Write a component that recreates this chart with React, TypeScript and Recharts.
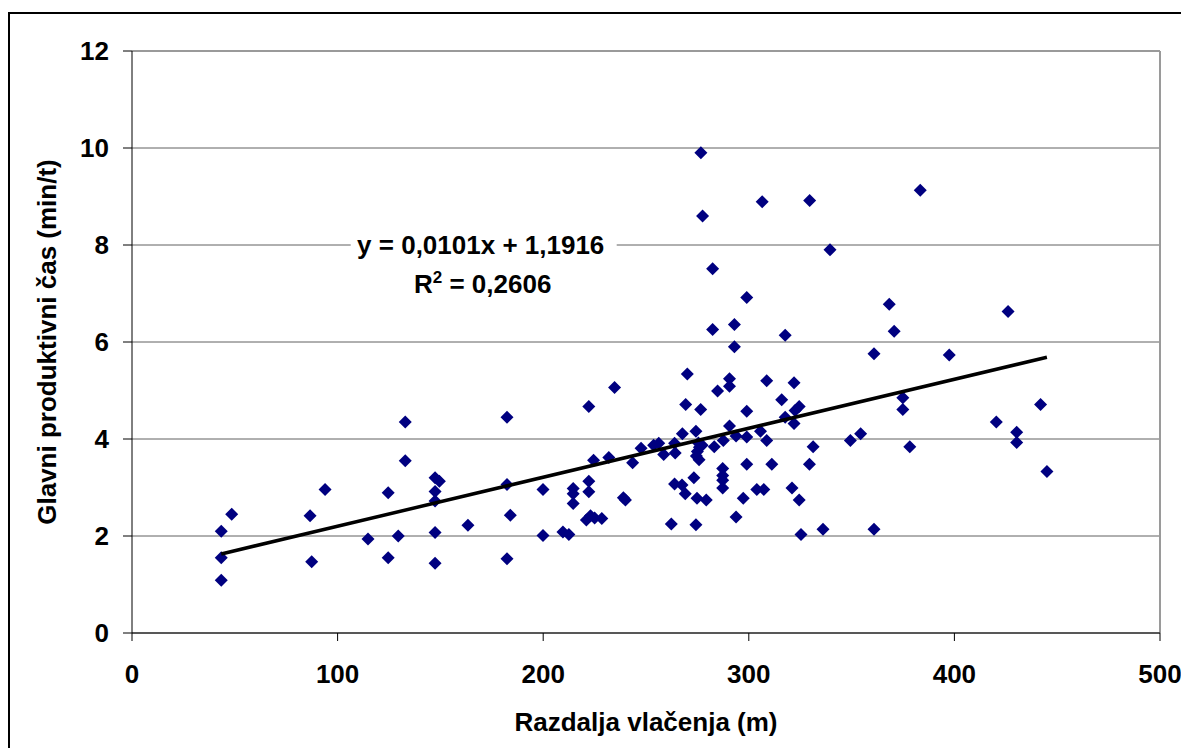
import React from "react";
import {
  ScatterChart,
  Scatter,
  XAxis,
  YAxis,
  CartesianGrid,
  ReferenceLine,
  Label,
} from "recharts";

// Razdalja vlačenja (m)
const distances: number[] = [
  43.4, 43.4, 43.4, 48.5, 86.6, 87.4, 93.9, 114.8, 124.6, 124.6,
  129.5, 132.9, 132.9, 147.4, 149.5, 147.4, 147.4, 147.4, 147.4, 163.4,
  182.4, 182.4, 184.0, 182.4, 199.9, 199.9, 209.6, 212.5, 214.6, 214.6,
  214.6, 222.2, 222.2, 222.2, 221.0, 223.0, 225.0, 228.5, 224.5, 231.9,
  234.7, 239.0, 240.0, 243.5, 247.6, 253.7, 256.2, 258.6, 263.9, 264.2,
  267.7, 274.3, 276.6, 269.3, 270.1, 275.5, 276.0, 275.0, 274.5, 275.8,
  277.3, 273.3, 263.9, 267.5, 269.1, 274.8, 279.3, 262.3, 274.3, 276.7,
  277.5, 282.4, 282.4, 284.8, 283.2, 287.6, 287.3, 287.3, 287.3, 287.3,
  290.6, 290.6, 290.6, 293.0, 293.0, 293.8, 293.8, 297.3, 299.0, 299.0,
  299.0, 299.0, 303.9, 307.3, 305.7, 306.5, 308.7, 308.7, 311.2, 316.0,
  317.7, 317.7, 322.0, 324.5, 322.5, 322.0, 321.0, 324.5, 325.4, 329.6,
  331.3, 329.5, 336.1, 339.5, 349.4, 354.4, 360.9, 360.9, 368.3, 370.7,
  374.9, 374.9, 378.3, 383.4, 397.5, 420.4, 426.1, 430.3, 430.3, 441.9,
  445.0,
];

// Glavni produktivni čas (min/t)
const times: number[] = [
  1.09, 1.55, 2.10, 2.45, 2.42, 1.47, 2.96, 1.94, 2.89, 1.55,
  2.00, 3.55, 4.35, 3.20, 3.13, 2.92, 2.72, 2.07, 1.44, 2.22,
  4.45, 3.06, 2.43, 1.53, 2.96, 2.01, 2.08, 2.03, 2.98, 2.87,
  2.67, 4.67, 3.13, 2.91, 2.33, 2.42, 2.37, 2.36, 3.56, 3.62,
  5.06, 2.79, 2.74, 3.51, 3.81, 3.87, 3.91, 3.68, 3.91, 3.71,
  4.11, 4.16, 4.61, 4.71, 5.34, 3.92, 3.83, 3.74, 3.65, 3.57,
  3.87, 3.20, 3.07, 3.05, 2.87, 2.78, 2.74, 2.25, 2.23, 9.90,
  8.60, 7.51, 6.26, 4.99, 3.84, 3.97, 3.39, 3.25, 3.15, 2.99,
  5.24, 5.09, 4.27, 6.36, 5.90, 4.06, 2.39, 2.78, 6.92, 4.57,
  4.04, 3.48, 2.96, 2.96, 4.16, 8.89, 5.20, 3.97, 3.48, 4.81,
  6.14, 4.45, 5.16, 4.67, 4.59, 4.32, 2.99, 2.74, 2.03, 8.92,
  3.84, 3.48, 2.14, 7.90, 3.97, 4.11, 5.76, 2.14, 6.78, 6.22,
  4.85, 4.61, 3.84, 9.13, 5.73, 4.35, 6.63, 4.14, 3.93, 4.71,
  3.33,
];

const xTicks: number[] = [0, 100, 200, 300, 400, 500];
const yTicks: number[] = [0, 2, 4, 6, 8, 10, 12];

const slope = 0.0101;
const intercept = 1.1916;
const equationText = "y = 0,0101x + 1,1916";
const r2Text = "0,2606";
const equationAnchor = [{ x: 169.6, y: 8 }];

const points = distances.map((d, i) => ({ x: d, y: times[i] }));
const xMin = Math.min(...distances);
const xMax = Math.max(...distances);
const trend = [
  { x: xMin, y: slope * xMin + intercept },
  { x: xMax, y: slope * xMax + intercept },
];

const FONT = '"Liberation Sans", Arial, sans-serif';
const FS = 26;

const Diamond = (props: any) => {
  const { cx, cy } = props;
  if (cx == null || cy == null) return <g />;
  const h = 6.5;
  return (
    <polygon
      points={`${cx},${cy - h} ${cx + h},${cy} ${cx},${cy + h} ${cx - h},${cy}`}
      fill="#000080"
    />
  );
};

const EquationLabel = (props: any) => {
  const { cx, cy } = props;
  if (cx == null || cy == null) return <g />;
  return (
    <g>
      <rect x={cx - 130} y={cy - 18} width={266} height={64} fill="#ffffff" />
      <text
        x={cx}
        y={cy}
        dy="0.355em"
        textAnchor="middle"
        fontFamily={FONT}
        fontWeight="bold"
        fontSize={FS}
        fill="#000"
      >
        {equationText}
      </text>
      <text
        x={cx + 2}
        y={cy + 39}
        dy="0.355em"
        textAnchor="middle"
        fontFamily={FONT}
        fontWeight="bold"
        fontSize={FS}
        fill="#000"
      >
        R
        <tspan fontSize={17} dy="-10">2</tspan>
        <tspan dy="10">{" = " + r2Text}</tspan>
      </text>
    </g>
  );
};

const tickStyle = {
  fontFamily: FONT,
  fontWeight: "bold" as const,
  fontSize: FS,
  fill: "#000",
};

export default function App() {
  return (
    <div
      style={{
        marginTop: 4,
        width: 1179,
        height: 734,
        borderTop: "2px solid #000",
        borderLeft: "2px solid #000",
        background: "#fff",
      }}
    >
      <ScatterChart
        width={1179}
        height={734}
        margin={{ top: 37, right: 29, bottom: 55, left: 22 }}
      >
        <CartesianGrid
          horizontal={true}
          vertical={false}
          stroke="#606060"
          strokeWidth={1}
        />
        <XAxis
          type="number"
          dataKey="x"
          domain={[0, 500]}
          ticks={xTicks}
          interval={0}
          height={60}
          axisLine={{ stroke: "#000", strokeWidth: 1 }}
          tickLine={{ stroke: "#000", strokeWidth: 1 }}
          tickSize={8}
          tickMargin={24}
          tick={tickStyle}
        >
          <Label
            value="Razdalja vlačenja (m)"
            position="bottom"
            offset={20}
            style={{
              fontFamily: FONT,
              fontWeight: "bold",
              fontSize: FS,
              fill: "#000",
            }}
          />
        </XAxis>
        <YAxis
          type="number"
          dataKey="y"
          domain={[0, 12]}
          ticks={yTicks}
          interval={0}
          width={100}
          axisLine={{ stroke: "#000", strokeWidth: 1 }}
          tickLine={{ stroke: "#000", strokeWidth: 1 }}
          tickSize={9}
          tickMargin={14}
          tick={tickStyle}
        >
          <Label
            value="Glavni produktivni čas (min/t)"
            angle={-90}
            position="insideLeft"
            offset={15}
            style={{
              textAnchor: "middle",
              fontFamily: FONT,
              fontWeight: "bold",
              fontSize: FS,
              fill: "#000",
            }}
          />
        </YAxis>
        <ReferenceLine y={12} stroke="#9a9a9a" strokeWidth={2} />
        <ReferenceLine x={500} stroke="#9a9a9a" strokeWidth={2} />
        <Scatter
          data={points}
          shape={Diamond}
          isAnimationActive={false}
        />
        <Scatter
          data={trend}
          line={{ stroke: "#000", strokeWidth: 3.5 }}
          shape={() => <g />}
          isAnimationActive={false}
        />
        <Scatter
          data={equationAnchor}
          shape={EquationLabel}
          isAnimationActive={false}
        />
      </ScatterChart>
    </div>
  );
}
